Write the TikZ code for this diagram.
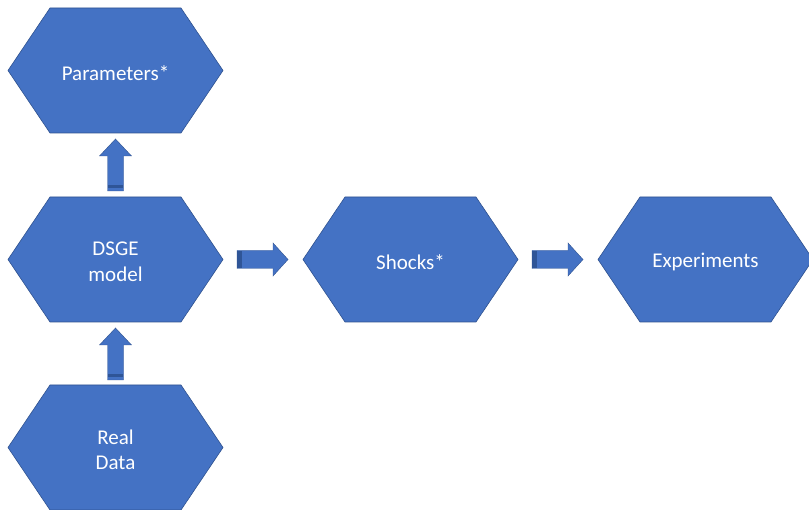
\documentclass[tikz,border=0pt]{standalone}
\usepackage{fontspec}
\setmainfont{Carlito}
\usetikzlibrary{calc}
\definecolor{hexblue}{HTML}{4472C4}
\definecolor{hexedge}{HTML}{2F528F}
\definecolor{tailblue}{HTML}{2F5597}
\tikzset{
  hexshape/.style={fill=hexblue, draw=hexedge, line width=0.6pt},
  hextext/.style={text=white, font=\fontsize{21}{25.5}\selectfont, align=center},
  blockarrow/.style={fill=hexblue, draw=hexedge, line width=0.4pt},
  tailband/.style={fill=tailblue, draw=none}
}
\newcommand{\myhex}[4]{%
  \coordinate (#3) at (#1,#2);
  \path[hexshape] ([shift={(-107.5,0)}]#3) -- ([shift={(-65.5,-62.5)}]#3) -- ([shift={(65.5,-62.5)}]#3)
    -- ([shift={(107.5,0)}]#3) -- ([shift={(65.5,62.5)}]#3) -- ([shift={(-65.5,62.5)}]#3) -- cycle;
  \node[hextext] (#3-t) at ([yshift=-2.5pt]#3) {#4};
}
% up arrow: tip at (x,y), length 52
\newcommand{\uparrowat}[1]{%
  \path[blockarrow] ([shift={(0,0)}]#1) -- ([shift={(16,17)}]#1) -- ([shift={(8,17)}]#1) -- ([shift={(8,52)}]#1)
     -- ([shift={(-8,52)}]#1) -- ([shift={(-8,17)}]#1) -- ([shift={(-16,17)}]#1) -- cycle;
  \fill[tailband] ([shift={(-7.6,46)}]#1) rectangle ([shift={(7.6,49.5)}]#1);
}
\newcommand{\rightarrowat}[1]{%
  \path[blockarrow] ([shift={(0,0)}]#1) -- ([shift={(-15,-16.5)}]#1) -- ([shift={(-15,-9)}]#1) -- ([shift={(-51,-9)}]#1)
     -- ([shift={(-51,9)}]#1) -- ([shift={(-15,9)}]#1) -- ([shift={(-15,16.5)}]#1) -- cycle;
  \fill[tailband] ([shift={(-50.6,-8.6)}]#1) rectangle ([shift={(-46,8.6)}]#1);
}
\begin{document}
\begin{tikzpicture}[x=1pt,y=-1pt]
\useasboundingbox (0,0) rectangle (809,510);
\myhex{115.5}{70.5}{par}{Parameters*}
\myhex{115.5}{259.5}{dsge}{DSGE\\model}
\myhex{115.5}{447.5}{data}{Real\\Data}
\myhex{410.5}{259.5}{shk}{Shocks*}
\myhex{705.5}{259.5}{exp}{Experiments}
% arrows between nodes
\coordinate (a1) at ($(par)+(0,68.5)$);
\coordinate (a2) at ($(dsge)+(0,68.5)$);
\coordinate (a3) at ($(shk)+(-122.5,0)$);
\coordinate (a4) at ($(exp)+(-122.5,0)$);
\uparrowat{a1}
\uparrowat{a2}
\rightarrowat{a3}
\rightarrowat{a4}
\end{tikzpicture}
\end{document}
